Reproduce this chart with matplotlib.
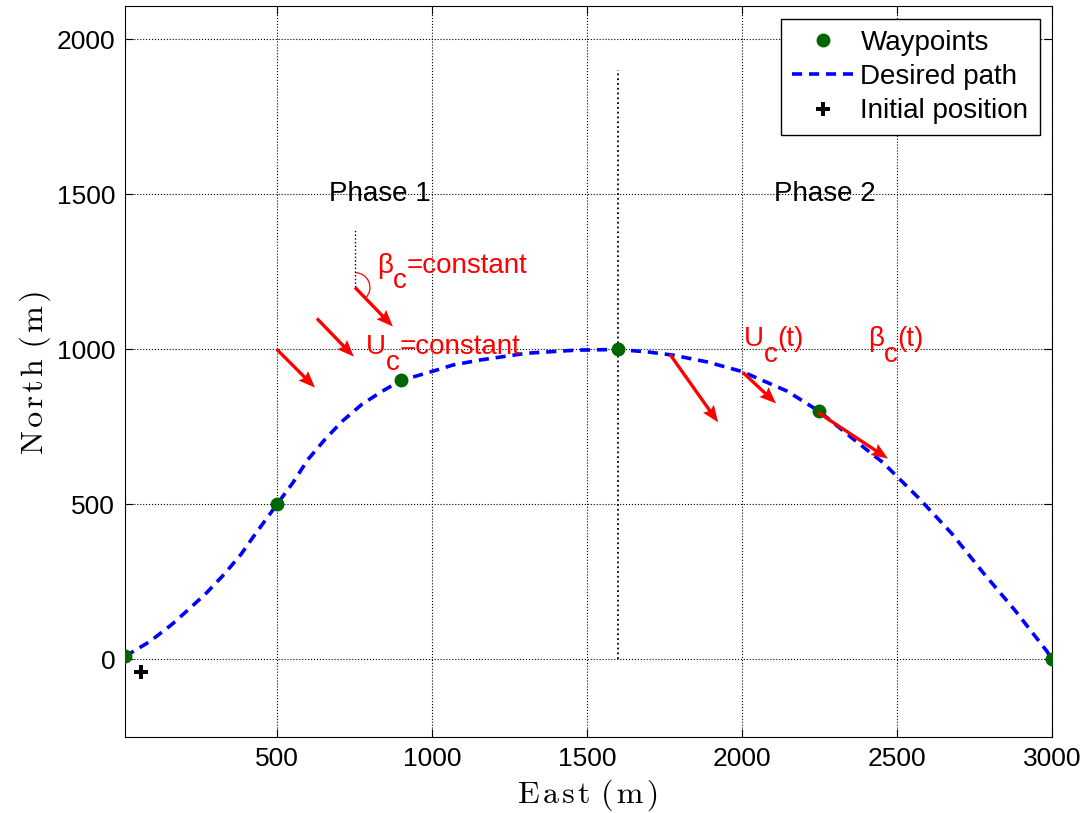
"""
Waypoint path with current arrows (phase 1 / phase 2), MATLAB-like look.
"""

import matplotlib
matplotlib.use("Agg")
import matplotlib.pyplot as plt
from matplotlib.patches import Arc
from matplotlib.transforms import offset_copy

plt.rcParams["font.family"] = ["Liberation Sans", "DejaVu Sans"]

# waypoints and initial position
wp_east = [10, 500, 900, 1600, 2250, 3000]
wp_north = [10, 500, 900, 1000, 800, 0]
init_east = [60]
init_north = [-40]

# desired path
path_east = [10, 90, 161, 219, 274, 329, 384, 429, 500, 552, 600, 655, 710,
             774, 839, 900, 1000, 1068, 1155, 1306, 1468, 1600, 1697, 1777,
             1887, 2000, 2145, 2250, 2358, 2455, 2568, 2677, 2777, 2881,
             2984, 3000]
path_north = [10, 58, 113, 165, 216, 274, 339, 403, 500, 571, 645, 710, 768,
              823, 865, 900, 929, 950, 966, 988, 998, 1000, 992, 982,
              960, 929, 866, 800, 712, 635, 523, 406, 281, 158,
              26, 0]

# current arrows: tail and components
cur_east = [500, 629, 752, 1768, 2003, 2245]
cur_north = [1000, 1100, 1200, 984, 926, 797]
cur_u = [123, 119, 122, 155, 107, 226]
cur_v = [-123, -123, -126, -219, -100, -149]

xticks = [500, 1000, 1500, 2000, 2500, 3000]
yticks = [0, 500, 1000, 1500, 2000]

fig = plt.figure(figsize=(10.89, 8.13), dpi=100)
ax = fig.add_axes([125 / 1089, 1 - 737 / 813, 927 / 1089, 731 / 813])

ax.plot(wp_east, wp_north, "o", color=(0, 0.4, 0), markersize=9,
        label="Waypoints", zorder=4)
ax.plot(path_east, path_north, "--", color="blue", linewidth=2.6,
        dashes=(2.8, 1.9), label="Desired path", zorder=3)
ax.plot(init_east, init_north, "P", color="black", markersize=9.5,
        markeredgewidth=0, label="Initial position", zorder=4)

ax.quiver(cur_east, cur_north, cur_u, cur_v, angles="xy", scale_units="xy",
          scale=1, color="red", width=0.0036, headwidth=4.0, headlength=5.0,
          headaxislength=4.4, zorder=5)

# phase separator and beta reference line
ax.plot([1600, 1600], [0, 1900], ":", color="black", linewidth=1.3)
ax.plot([752, 752], [1200, 1390], ":", color="black", linewidth=1.0)
ax.add_patch(Arc((752, 1200), 96, 96, theta1=-45, theta2=90,
                 color="red", linewidth=0.9))

ax.text(668, 1480, "Phase 1", fontsize=20)
ax.text(2103, 1480, "Phase 2", fontsize=20)


def sub_text(x, y, parts, size=20):
    """Write red text pieces left to right; each piece has its own drop."""
    renderer = fig.canvas.get_renderer()
    offset = 0.0
    for s, dy in parts:
        tr = offset_copy(ax.transData, fig=fig, x=offset, y=dy, units="points")
        t = ax.text(x, y, s, transform=tr, color="red", fontsize=size,
                    ha="left", va="baseline")
        offset += t.get_window_extent(renderer).width * 72 / fig.dpi


sub_text(823, 1248, [("β", 0), ("c", -11), ("=constant", 0)])
sub_text(787, 984, [("U", 0), ("c", -11), ("=constant", 0)])
sub_text(2006, 1010, [("U", 0), ("c", -11), ("(t)", 0)])
sub_text(2406, 1010, [("β", 0), ("c", -11), ("(t)", 0)])

ax.set_xlim(10, 3000)
ax.set_ylim(-250, 2108)
ax.set_xticks(xticks)
ax.set_yticks(yticks)
ax.tick_params(direction="in", top=True, right=True, labelsize=19, length=6,
               pad=7)
ax.grid(True, linestyle=":", color="black", linewidth=0.8)
ax.set_axisbelow(True)

# letter-spaced serif labels, like the LaTeX rendering in the original
hs = "\u200a"
xlab = hs.join("East") + " " + hs.join("(m)")
ylab = hs.join("North") + " " + hs.join("(m)")
ax.set_xlabel(xlab, family=["cmr10", "DejaVu Serif"], fontsize=23,
              labelpad=6)
ax.set_ylabel(ylab, family=["cmr10", "DejaVu Serif"], fontsize=23,
              labelpad=4)

leg = ax.legend(loc="upper right", fontsize=20, fancybox=False,
                edgecolor="black", framealpha=1, borderaxespad=0.45,
                handlelength=2.2, handletextpad=0.25, labelspacing=0.3,
                borderpad=0.4)
leg.get_frame().set_linewidth(1.0)

plt.savefig("out.png", dpi=100)
plt.close()
